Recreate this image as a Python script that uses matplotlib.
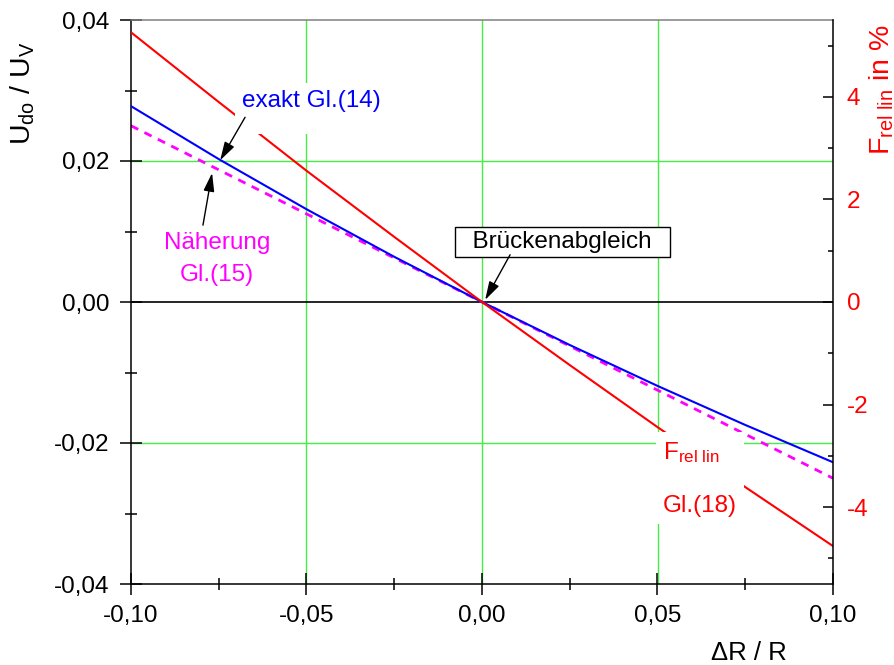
import matplotlib
matplotlib.use("Agg")
import matplotlib.pyplot as plt
from matplotlib.ticker import MultipleLocator, FuncFormatter

plt.rcParams['font.family'] = ['Liberation Sans', 'DejaVu Sans']
plt.rcParams['mathtext.fontset'] = 'custom'
plt.rcParams['mathtext.rm'] = 'Liberation Sans'
plt.rcParams['mathtext.it'] = 'Liberation Sans:italic'
plt.rcParams['mathtext.bf'] = 'Liberation Sans:bold'

# ---- data ----
dr_r = [-0.1, -0.075, -0.05, -0.025, 0.0, 0.025, 0.05, 0.075, 0.1]
u_exact = [0.02778, 0.02027, 0.01316, 0.00641, 0.0, -0.00610, -0.01190, -0.01744, -0.02273]
u_approx = [0.025, 0.01875, 0.0125, 0.00625, 0.0, -0.00625, -0.0125, -0.01875, -0.025]
f_rel = [5.26, 3.90, 2.56, 1.27, 0.0, -1.23, -2.44, -3.61, -4.76]

grid_x = [-0.05, 0.0, 0.05]
grid_y = [-0.02, 0.02]

FS = 17.5
FS_LAB = 20.5
RED = '#ff0000'
BLUE = '#0000ff'
MAG = '#ff00ff'
GREEN = '#44ee44'

fig = plt.figure(figsize=(8.95, 6.65), dpi=100)
W, H = 895, 665
ax = fig.add_axes([131 / W, 1 - 584 / H, (833 - 131) / W, (584 - 20) / H])
ax2 = ax.twinx()

# grid
for gx in grid_x:
    ax.axvline(gx, color=GREEN, lw=1.0, zorder=1)
for gy in grid_y:
    ax.axhline(gy, color=GREEN, lw=1.0, zorder=1)
ax.axhline(0.0, color='black', lw=1.2, zorder=1.5)

ax.plot(dr_r, u_approx, color=MAG, lw=2.0, dashes=(2.9, 2.5), zorder=2)
ax.plot(dr_r, u_exact, color=BLUE, lw=1.5, zorder=3)
ax2.plot(dr_r, f_rel, color=RED, lw=1.5, zorder=2)

ax.set_xlim(-0.1, 0.1)
ax.set_ylim(-0.04, 0.04)
ax2.set_ylim(-5.5, 5.5)

comma = FuncFormatter(lambda v, p: f"{v:.2f}".replace('.', ',').replace('-0,00', '0,00'))
ax.xaxis.set_major_locator(MultipleLocator(0.05))
ax.xaxis.set_minor_locator(MultipleLocator(0.025))
ax.yaxis.set_major_locator(MultipleLocator(0.02))
ax.yaxis.set_minor_locator(MultipleLocator(0.01))
ax.xaxis.set_major_formatter(comma)
ax.yaxis.set_major_formatter(comma)
ax2.yaxis.set_major_locator(MultipleLocator(2))
ax2.yaxis.set_minor_locator(MultipleLocator(1))
ax2.yaxis.set_major_formatter(FuncFormatter(lambda v, p: f"{v:.0f}"))

ax.tick_params(axis='both', which='major', direction='inout', length=16.5, width=1.1,
               labelsize=FS, pad=7, top=False, right=False)
ax.tick_params(axis='both', which='minor', direction='inout', length=8.6, width=1.1,
               top=False, right=False)
ax2.tick_params(axis='y', which='major', direction='in', length=7, width=1.1,
                labelsize=FS, pad=10, labelcolor=RED, colors='black')
ax2.tick_params(axis='y', which='minor', direction='in', length=3.6, width=1.1)
for lab in ax2.get_yticklabels():
    lab.set_color(RED)

for s in ['left', 'bottom']:
    ax.spines[s].set_linewidth(1.1)
ax.spines['right'].set_visible(False)
ax.spines['top'].set_color('#808080')
ax.spines['top'].set_linewidth(1.1)
for s in ['left', 'bottom', 'top']:
    ax2.spines[s].set_visible(False)
ax2.spines['right'].set_linewidth(1.1)

# axis labels
fig.text(23 / W, 1 - 93 / H, r'$\mathregular{U_{do}\ /\ U_V}$', rotation=90,
         fontsize=FS_LAB, ha='center', va='center')
fig.text(882 / W, 1 - 90 / H, r'$\mathregular{F_{rel\ lin}}$ in %', rotation=90,
         fontsize=FS_LAB, ha='center', va='center', color=RED)
fig.text(749 / W, 1 - 660 / H, 'ΔR / R', fontsize=18.5, ha='center', va='baseline')

# annotations
arrow = dict(arrowstyle='-|>,head_length=0.75,head_width=0.22', color='black', lw=1.0,
             mutation_scale=15, shrinkA=0, shrinkB=0)
tr = ax.transData

ax2.text(-0.0684, 0.0301, 'exakt Gl.(14)\n', transform=tr, color=BLUE, fontsize=FS,
         ha='left', va='top', linespacing=0.6, zorder=10,
         bbox=dict(boxstyle='square,pad=0.3', fc='white', ec='none'))
ax2.annotate('', xy=(-0.0746, 0.0201), xycoords=tr, xytext=(-0.0675, 0.0262),
             textcoords=tr, arrowprops=arrow, zorder=11)

ax2.text(-0.0755, 0.0099, 'Näherung\nGl.(15)', transform=tr, color=MAG, fontsize=FS,
         ha='center', va='top', multialignment='center', linespacing=1.6, zorder=10)
ax2.annotate('', xy=(-0.0769, 0.0183), xycoords=tr, xytext=(-0.0795, 0.0109),
             textcoords=tr, arrowprops=arrow, zorder=11)

ax2.text(0.0229, 0.00851, '  Brückenabgleich  ', transform=tr, color='black', fontsize=FS,
         ha='center', va='center', zorder=10,
         bbox=dict(boxstyle='square,pad=0.17', fc='white', ec='black', lw=1.0))
ax2.annotate('', xy=(0.0009, 0.0003), xycoords=tr, xytext=(0.0080, 0.0067),
             textcoords=tr, arrowprops=arrow, zorder=11)

ax2.text(0.0516, -0.0196, '$\\mathregular{F_{rel\\ lin}}$\nGl.(18)', transform=tr,
         color=RED, fontsize=FS, ha='left', va='top', linespacing=2.75, zorder=10,
         bbox=dict(boxstyle='square,pad=0.3', fc='white', ec='none'))

fig.savefig('out.png', dpi=100)
